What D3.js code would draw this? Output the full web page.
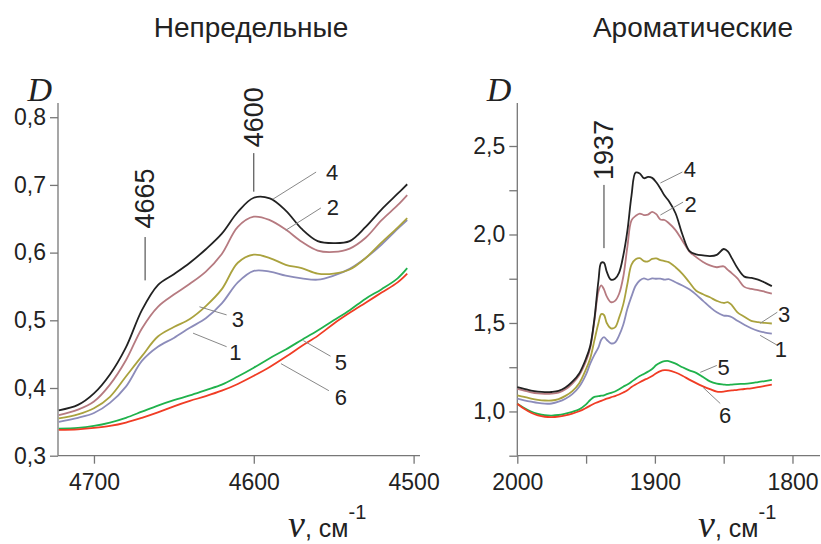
<!DOCTYPE html>
<head>
  <style>
    body { margin: 0; background: #fff; }
    text { font-family: "Liberation Sans", Arial, sans-serif; fill: #222; }
    .axis path, .axis line { stroke: #777; stroke-width: 1.3; }
    .axis text { font-size: 23px; fill: #222; font-family: "Liberation Sans", Arial, sans-serif; }
    .lead { stroke: #888; stroke-width: 1; }
  </style>
</head>
<title>Непредельные / Ароматические</title>
<body>
<script src="https://cdn.jsdelivr.net/npm/d3@7"></script>
<script>

// ---- left panel: unsaturated, 4722..4504 cm-1
var nuL = [4722, 4710, 4700, 4690, 4680, 4670, 4660, 4650, 4640, 4630, 4620, 4610,
           4600, 4590, 4580, 4570, 4560, 4550, 4540, 4530, 4520, 4510, 4504];
var L1 = [0.350, 0.356, 0.363, 0.378, 0.402, 0.440, 0.461, 0.474, 0.489, 0.503, 0.525, 0.556,
          0.573, 0.572, 0.566, 0.562, 0.560, 0.566, 0.576, 0.592, 0.612, 0.635, 0.648];
var L2 = [0.360, 0.368, 0.380, 0.405, 0.441, 0.488, 0.520, 0.538, 0.554, 0.572, 0.598, 0.638,
          0.653, 0.648, 0.634, 0.616, 0.603, 0.601, 0.606, 0.622, 0.648, 0.670, 0.685];
var L3 = [0.355, 0.361, 0.370, 0.387, 0.417, 0.447, 0.476, 0.490, 0.502, 0.521, 0.546, 0.585,
          0.597, 0.592, 0.582, 0.577, 0.569, 0.569, 0.575, 0.592, 0.615, 0.637, 0.651];
var L4 = [0.367, 0.375, 0.392, 0.420, 0.460, 0.515, 0.552, 0.568, 0.585, 0.605, 0.628, 0.660,
          0.681, 0.680, 0.662, 0.635, 0.617, 0.614, 0.617, 0.638, 0.664, 0.687, 0.701];
var L5 = [0.340, 0.341, 0.344, 0.349, 0.356, 0.365, 0.374, 0.382, 0.389, 0.397, 0.405, 0.417,
          0.430, 0.444, 0.457, 0.471, 0.485, 0.500, 0.515, 0.532, 0.546, 0.562, 0.577];
var L6 = [0.338, 0.339, 0.341, 0.344, 0.349, 0.356, 0.364, 0.373, 0.381, 0.388, 0.396, 0.406,
          0.418, 0.431, 0.446, 0.462, 0.477, 0.495, 0.511, 0.526, 0.541, 0.556, 0.569];

// ---- right panel: aromatic, 2000..1815 cm-1
var nuR = [2000, 1995, 1990, 1985, 1980, 1975, 1970, 1965, 1960, 1955, 1950, 1947, 1944, 1941,
           1939, 1937, 1935, 1932, 1929, 1926, 1923, 1920, 1917, 1914, 1911, 1908, 1905, 1902,
           1899, 1896, 1893, 1890, 1885, 1880, 1875, 1870, 1865, 1860, 1855, 1850, 1847, 1844,
           1840, 1835, 1830, 1825, 1820, 1815];
var R1 = [1.072, 1.063, 1.055, 1.048, 1.044, 1.045, 1.055, 1.072, 1.098, 1.140, 1.210, 1.270, 1.320, 1.362,
          1.405, 1.420, 1.405, 1.385, 1.390, 1.430, 1.490, 1.580, 1.650, 1.710, 1.740, 1.752, 1.745, 1.752,
          1.750, 1.751, 1.745, 1.748, 1.730, 1.712, 1.690, 1.660, 1.625, 1.590, 1.560, 1.542, 1.540, 1.532,
          1.512, 1.490, 1.470, 1.455, 1.446, 1.440];
var R2 = [1.128, 1.118, 1.108, 1.102, 1.100, 1.101, 1.107, 1.125, 1.158, 1.205, 1.285, 1.360, 1.510, 1.680,
          1.712, 1.690, 1.650, 1.618, 1.625, 1.665, 1.760, 1.930, 2.080, 2.105, 2.118, 2.110, 2.112, 2.128,
          2.115, 2.085, 2.082, 2.065, 2.025, 1.965, 1.905, 1.872, 1.845, 1.825, 1.815, 1.820, 1.800, 1.780,
          1.752, 1.704, 1.692, 1.686, 1.676, 1.666];
var R3 = [1.091, 1.082, 1.073, 1.066, 1.062, 1.062, 1.070, 1.088, 1.115, 1.160, 1.240, 1.300, 1.400, 1.500,
          1.550, 1.545, 1.500, 1.470, 1.475, 1.530, 1.605, 1.720, 1.830, 1.860, 1.866, 1.850, 1.848, 1.862,
          1.865, 1.855, 1.850, 1.844, 1.815, 1.778, 1.730, 1.682, 1.662, 1.645, 1.625, 1.613, 1.618, 1.600,
          1.560, 1.535, 1.512, 1.505, 1.500, 1.497];
var R4 = [1.138, 1.128, 1.118, 1.112, 1.109, 1.110, 1.116, 1.135, 1.168, 1.215, 1.300, 1.370, 1.520, 1.740,
          1.840, 1.840, 1.790, 1.745, 1.750, 1.785, 1.880, 2.020, 2.220, 2.350, 2.345, 2.318, 2.325, 2.320,
          2.295, 2.260, 2.220, 2.190, 2.120, 2.000, 1.908, 1.888, 1.882, 1.878, 1.885, 1.918, 1.905, 1.865,
          1.810, 1.762, 1.755, 1.745, 1.728, 1.708];
var R5 = [1.044, 1.020, 1.000, 0.987, 0.979, 0.977, 0.980, 0.988, 0.998, 1.012, 1.040, 1.065, 1.082, 1.086,
          1.089, 1.091, 1.098, 1.105, 1.113, 1.125, 1.140, 1.152, 1.168, 1.185, 1.200, 1.212, 1.225, 1.240,
          1.262, 1.276, 1.284, 1.285, 1.270, 1.250, 1.232, 1.218, 1.195, 1.170, 1.157, 1.152, 1.150, 1.152,
          1.155, 1.156, 1.160, 1.166, 1.172, 1.179];
var R6 = [1.044, 1.015, 0.993, 0.978, 0.970, 0.968, 0.971, 0.978, 0.988, 1.001, 1.020, 1.033, 1.045, 1.054,
          1.060, 1.066, 1.072, 1.080, 1.087, 1.096, 1.107, 1.120, 1.138, 1.152, 1.165, 1.177, 1.188, 1.200,
          1.216, 1.228, 1.233, 1.232, 1.220, 1.202, 1.180, 1.160, 1.142, 1.126, 1.112, 1.112, 1.116, 1.119,
          1.122, 1.127, 1.131, 1.137, 1.144, 1.151];

var colors = ["#8c8cba", "#b67a80", "#aaa23e", "#222222", "#20b24c", "#f03c24"];

var ticksLx = [4700, 4600, 4500];
var ticksLy = [0.3, 0.4, 0.5, 0.6, 0.7, 0.8];
var ticksRx = [2000, 1950, 1900, 1850, 1800];
var ticksRy = [0.75, 1.0, 1.25, 1.5, 1.75, 2.0, 2.25, 2.5];
var labRx = [2000, 1900, 1800];
var labRy = [1.0, 1.5, 2.0, 2.5];

// curve number labels: leader from (v1,d1) to (v2,d2), text at (vt,dt)
var numsL = [
  {t: "4", v1: 4588, d1: 0.679, v2: 4561, d2: 0.719, vt: 4551, dt: 0.707},
  {t: "2", v1: 4580, d1: 0.633, v2: 4558, d2: 0.666, vt: 4550.5, dt: 0.656},
  {t: "3", v1: 4634, d1: 0.520, v2: 4617, d2: 0.508, vt: 4610, dt: 0.490},
  {t: "1", v1: 4638, d1: 0.481, v2: 4617, d2: 0.461, vt: 4611.5, dt: 0.441},
  {t: "5", v1: 4569, d1: 0.470, v2: 4552, d2: 0.447, vt: 4545.5, dt: 0.427},
  {t: "6", v1: 4583, d1: 0.436, v2: 4553, d2: 0.396, vt: 4545.5, dt: 0.375}
];
var numsR = [
  {t: "4", v1: 1896, d1: 2.291, v2: 1880, d2: 2.353, vt: 1874.5, dt: 2.325},
  {t: "2", v1: 1896, d1: 2.110, v2: 1879.5, d2: 2.183, vt: 1874, dt: 2.127},
  {t: "3", v1: 1823.5, d1: 1.498, v2: 1811, d2: 1.561, vt: 1806, dt: 1.504},
  {t: "1", v1: 1823.5, d1: 1.430, v2: 1811, d2: 1.374, vt: 1808.5, dt: 1.306},
  {t: "5", v1: 1867, d1: 1.221, v2: 1855, d2: 1.260, vt: 1850, dt: 1.204},
  {t: "6", v1: 1865, d1: 1.136, v2: 1852.5, d2: 1.045, vt: 1849, dt: 0.932}
];
// peak marks: vertical bar from d1 to d2, rotated text centred at dt
var peaksL = [
  {t: "4665", v: 4668, d1: 0.623, d2: 0.559, dt: 0.680},
  {t: "4600", v: 4600, d1: 0.747, d2: 0.690, dt: 0.800}
];
var peaksR = [
  {t: "1937", v: 1937, d1: 2.280, d2: 1.923, dt: 2.478}
];

var W = 821, H = 544;
var yTop = 103, yBot = 455.7;

var svg = d3.select("body").append("svg")
  .attr("width", W).attr("height", H);

var fmt = function(d) { return d3.format(".1f")(d).replace(".", ","); };

function panel(o) {
  var x = d3.scaleLinear().domain(o.xd).range(o.xr);
  var y = d3.scaleLinear().domain(o.yd).range([yBot, yTop]);
  var g = svg.append("g");

  g.append("g").attr("class", "axis")
    .attr("transform", "translate(0," + yBot + ")")
    .call(d3.axisBottom(x).tickValues(o.tx).tickSize(8).tickPadding(10)
      .tickFormat(function(d) { return o.lx.indexOf(d) >= 0 ? d : ""; }))
    .call(function(s) { s.select(".domain").attr("d", "M" + o.xr[0] + ",0H" + o.xr[1]); });

  g.append("g").attr("class", "axis")
    .attr("transform", "translate(" + o.xr[0] + ",0)")
    .call(d3.axisLeft(y).tickValues(o.ty).tickSize(8).tickPadding(4)
      .tickFormat(function(d) { return o.ly.indexOf(d) >= 0 ? fmt(d) : ""; }))
    .call(function(s) { s.select(".domain").attr("d", "M0," + yTop + "V" + yBot); });

  var line = d3.line()
    .x(function(d) { return x(d[0]); })
    .y(function(d) { return y(d[1]); })
    .curve(d3.curveCatmullRom.alpha(0.5));

  o.series.forEach(function(s, i) {
    g.append("path")
      .datum(o.nu.map(function(v, j) { return [v, s[j]]; }))
      .attr("fill", "none")
      .attr("stroke", colors[i])
      .attr("stroke-width", 1.8)
      .attr("d", line);
  });

  o.nums.forEach(function(n) {
    g.append("line").attr("class", "lead")
      .attr("x1", x(n.v1)).attr("y1", y(n.d1))
      .attr("x2", x(n.v2)).attr("y2", y(n.d2));
    g.append("text")
      .attr("x", x(n.vt)).attr("y", y(n.dt))
      .attr("text-anchor", "middle")
      .style("font-size", "22px")
      .text(n.t);
  });

  o.peaks.forEach(function(p) {
    g.append("line")
      .attr("x1", x(p.v)).attr("x2", x(p.v))
      .attr("y1", y(p.d1)).attr("y2", y(p.d2))
      .attr("stroke", "#333").attr("stroke-width", 1);
    g.append("text")
      .attr("transform", "translate(" + (x(p.v) + 9) + "," + y(p.dt) + ") rotate(-90)")
      .attr("text-anchor", "middle")
      .style("font-size", "27px")
      .text(p.t);
  });

  // D label
  g.append("text")
    .attr("x", o.xr[0] - 6).attr("y", yTop - 2)
    .attr("text-anchor", "end")
    .style("font-family", "'Liberation Serif', 'DejaVu Serif', serif")
    .style("font-style", "italic")
    .style("font-size", "34px")
    .text("D");

  // nu label
  var t = g.append("text")
    .attr("x", o.nuX).attr("y", 537);
  t.append("tspan")
    .style("font-family", "'Liberation Serif', 'DejaVu Serif', serif")
    .style("font-style", "italic")
    .style("font-size", "38px")
    .text("ν");
  t.append("tspan").style("font-size", "25px").text(", см");
  t.append("tspan").attr("dy", -18).style("font-size", "20px").text("-1");

  // title
  svg.append("text")
    .attr("x", o.titleX).attr("y", 37)
    .attr("text-anchor", "middle")
    .style("font-size", "28px")
    .text(o.title);
}

panel({
  xd: [4722.5, 4496], xr: [58, 420], yd: [0.3, 0.821],
  tx: ticksLx, lx: ticksLx, ty: ticksLy, ly: ticksLy,
  nu: nuL, series: [L1, L2, L3, L4, L5, L6],
  nums: numsL, peaks: peaksL, nuX: 288, titleX: 251, title: "Непредельные"
});

panel({
  xd: [2000, 1780], xr: [517.3, 820], yd: [0.75, 2.743],
  tx: ticksRx, lx: labRx, ty: ticksRy, ly: labRy,
  nu: nuR, series: [R1, R2, R3, R4, R5, R6],
  nums: numsR, peaks: peaksR, nuX: 698, titleX: 693, title: "Ароматические"
});

</script>
</body>
